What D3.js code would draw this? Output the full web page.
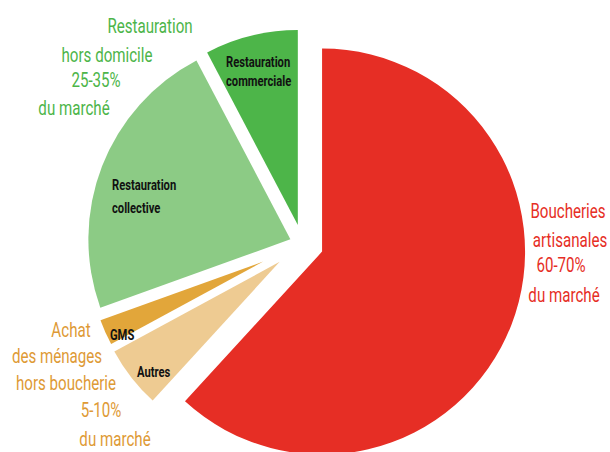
<!DOCTYPE html>
<html>
<head>
<meta charset="utf-8">
<script src="https://cdn.jsdelivr.net/npm/d3@7"></script>
<style>
  html, body { margin: 0; padding: 0; background: #ffffff; }
  svg { display: block; }
  text { font-family: Roboto, "Liberation Sans", "DejaVu Sans", sans-serif; }
</style>
</head>
<body>
<svg id="chart" width="610" height="452"></svg>
<script>
// Market shares (%) of the meat outlets, clockwise from 12 o'clock
const categories = [
  "Boucheries artisanales",
  "Autres",
  "GMS",
  "Restauration collective",
  "Restauration commerciale"
];
const shares = [61.8, 5.3, 2.4, 22.8, 7.7];

// Slice styling
const sliceColors  = ["#E62E25", "#EECB92", "#E2A63A", "#8CCB85", "#4DB549"];
const sliceRadius  = [203, 188, 173, 202, 195];
const sliceExplode = [21, 29, 43, 13, 19.5];

// Labels written inside the slices (two lines max)
const innerLabels = [
  { lines: [], x: 0, y: 0 },
  { lines: ["Autres"], x: 137, y: 377 },
  { lines: ["GMS"], x: 110, y: 340 },
  { lines: ["Restauration", "collective"], x: 112, y: 190, dy: 23 },
  { lines: ["Restauration", "commerciale"], x: 226, y: 67, dy: 19 }
];

// Group labels around the pie
const groupLabels = [
  { color: "#4DB549",
    lines: [["Restauration", 150, 33], ["hors domicile", 107, 62], ["25-35%", 96, 87], ["du marché", 74, 115]] },
  { color: "#E62E25",
    lines: [["Boucheries", 568, 218], ["artisanales", 570, 247], ["60-70%", 561, 272], ["du marché", 564, 302]] },
  { color: "#DE9A35",
    lines: [["Achat", 71, 337], ["des ménages", 57, 363], ["hors boucherie", 66, 390], ["5-10%", 101, 417], ["du marché", 115, 446]] }
];

const svg = d3.select("#chart");
const center = [302.5, 244];

const pie = d3.pie().sort(null).value(d => d).startAngle(0).endAngle(2 * Math.PI);
const arcs = pie(shares);

const arc = d3.arc()
  .innerRadius(0)
  .outerRadius((d, i) => sliceRadius[i]);

const g = svg.append("g").attr("transform", `translate(${center[0]},${center[1]})`);

g.selectAll("path.slice")
  .data(arcs)
  .join("path")
  .attr("class", "slice")
  .attr("fill", (d, i) => sliceColors[i])
  .attr("d", (d, i) => arc(d, i))
  .attr("transform", (d, i) => {
    const mid = (d.startAngle + d.endAngle) / 2;
    const e = sliceExplode[i];
    return `translate(${Math.sin(mid) * e},${-Math.cos(mid) * e})`;
  });

// Inner labels: bold, condensed
innerLabels.forEach(l => {
  l.lines.forEach((t, k) => {
    svg.append("text")
      .attr("transform", `translate(${l.x},${l.y + k * (l.dy || 0)}) scale(0.8,1)`)
      .attr("font-size", 14)
      .attr("font-weight", 700)
      .attr("fill", "#111")
      .text(t);
  });
});

// Outer group labels: light, condensed, centred on each line
groupLabels.forEach(gl => {
  gl.lines.forEach(([t, x, y]) => {
    svg.append("text")
      .attr("transform", `translate(${x},${y}) scale(0.72,1)`)
      .attr("text-anchor", "middle")
      .attr("font-size", 21)
      .attr("font-weight", 400)
      .attr("fill", gl.color)
      .text(t);
  });
});
</script>
</body>
</html>
